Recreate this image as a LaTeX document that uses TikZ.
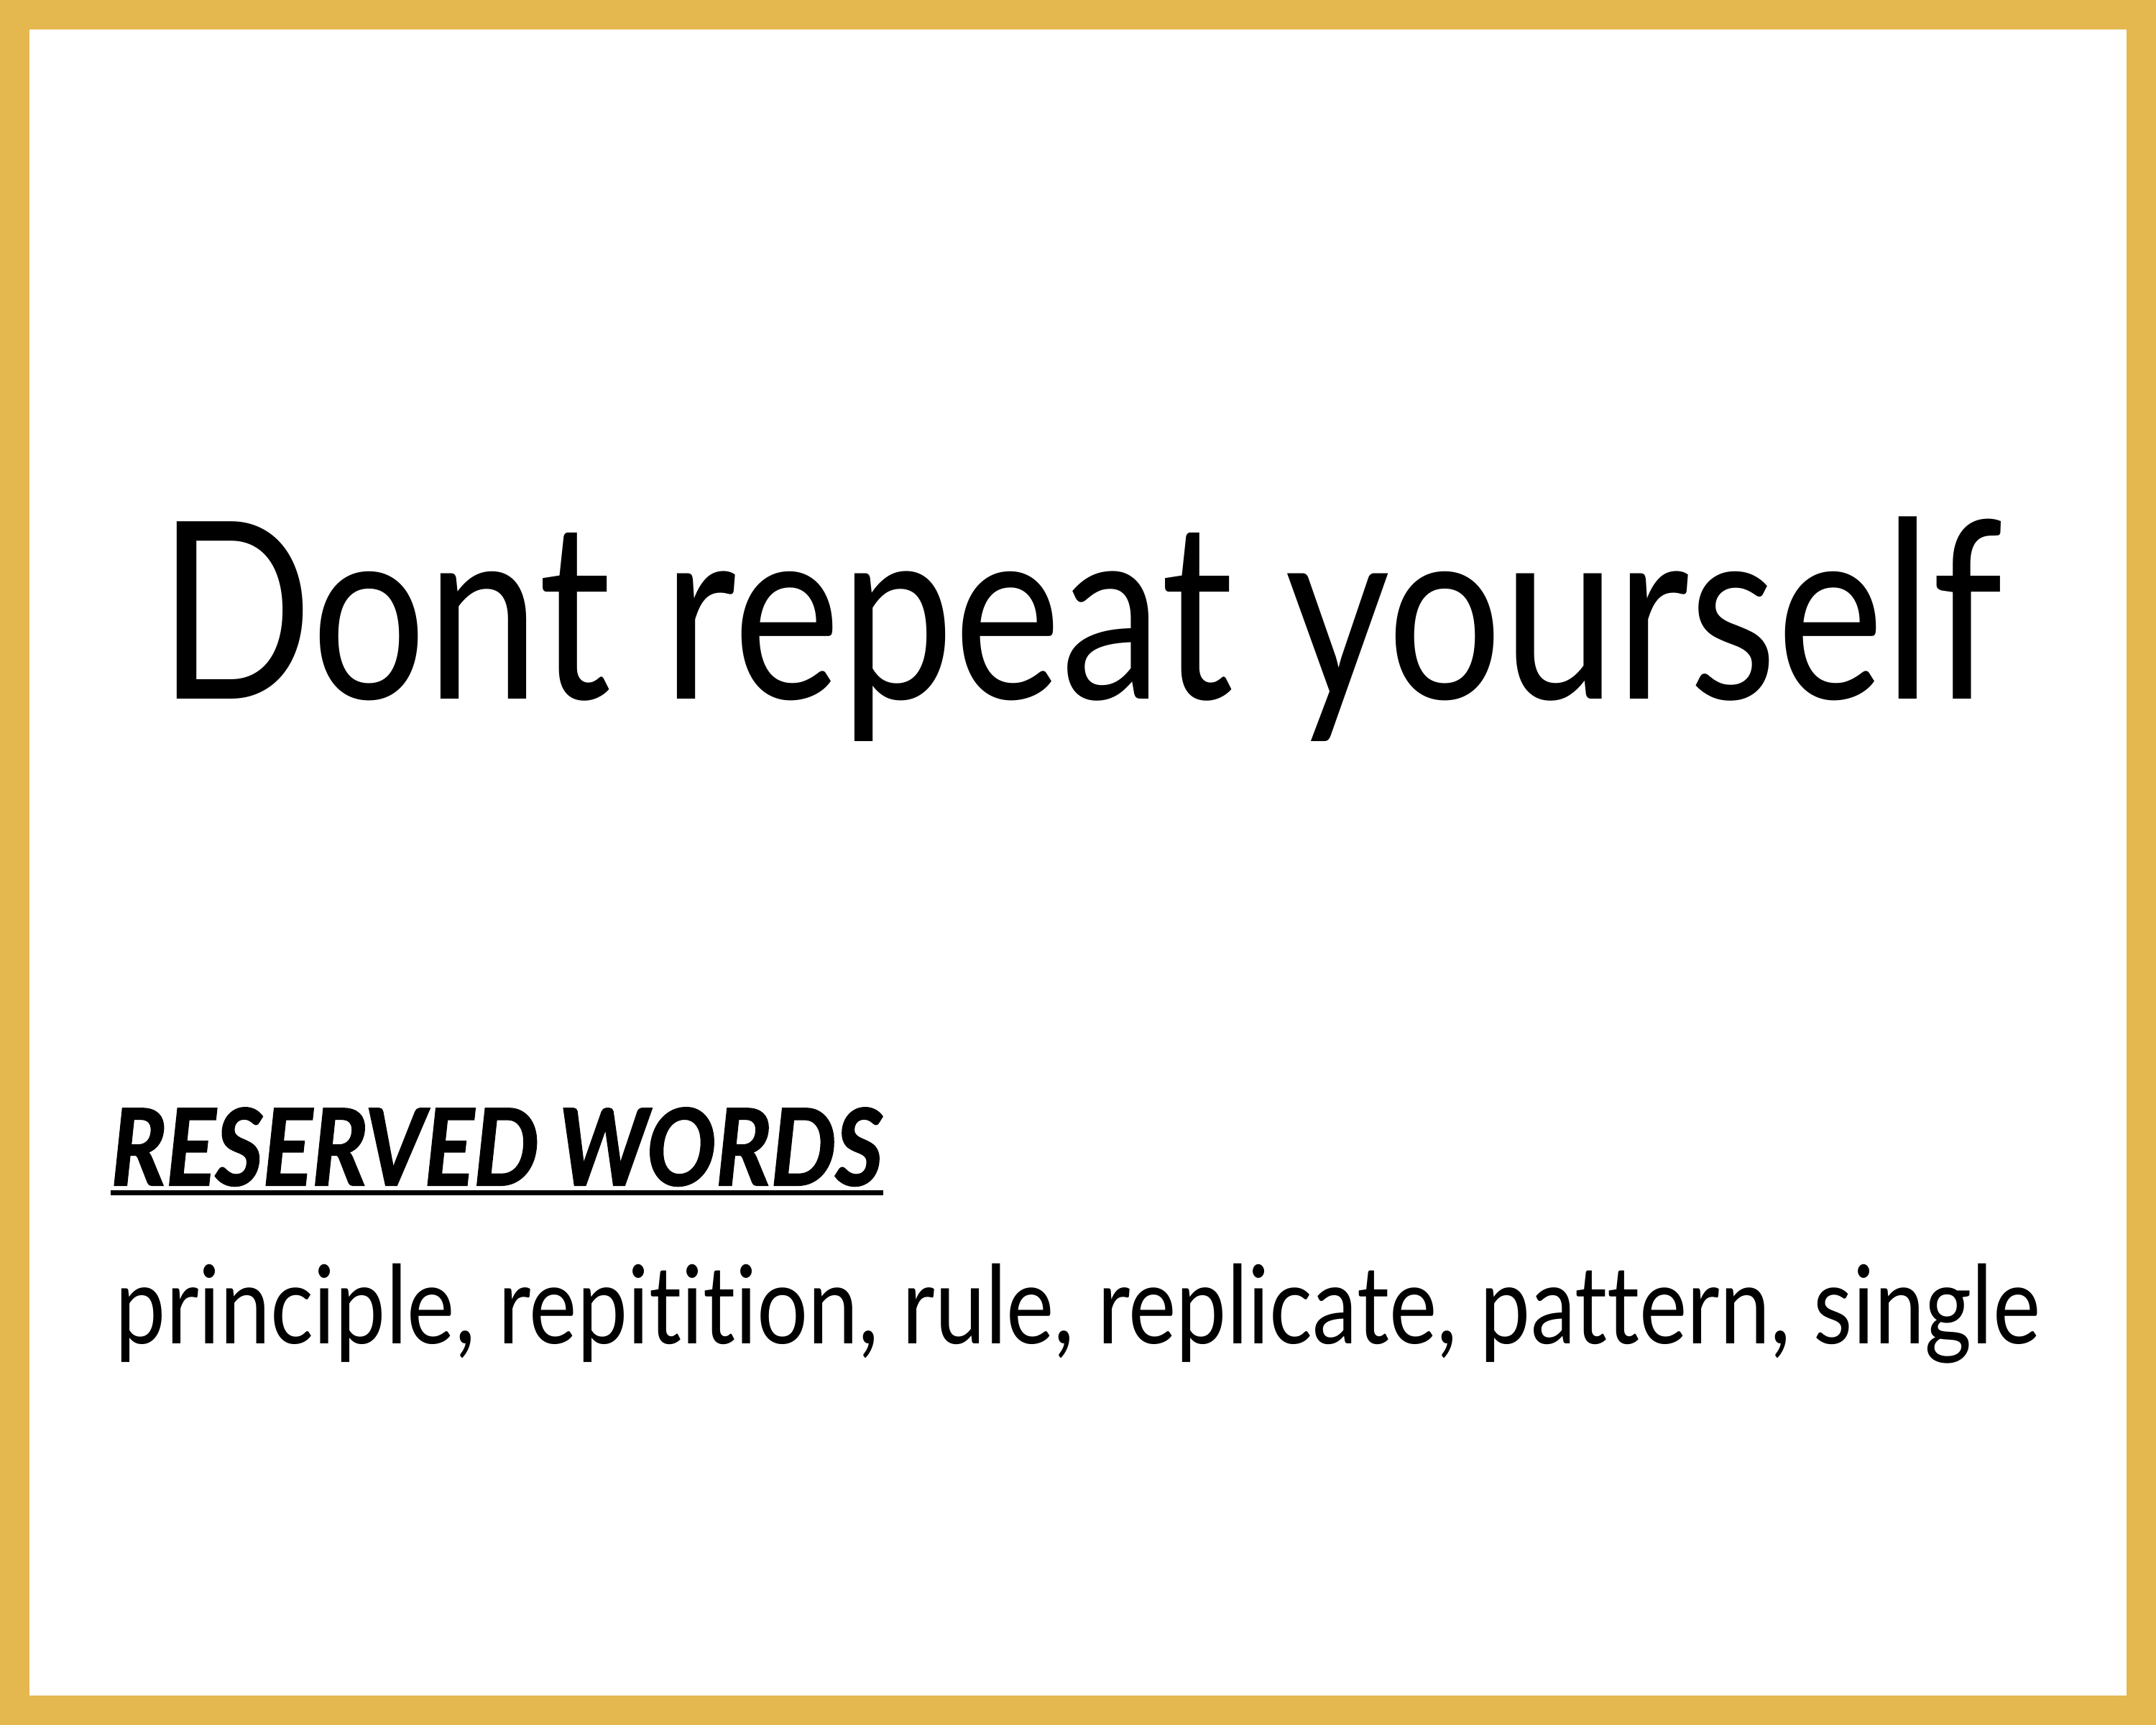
\documentclass[tikz,border=0pt]{standalone}
\usepackage{fontspec}
\setmainfont{Lato}[FakeStretch=0.82, Ligatures=NoCommon]
\newfontfamily\headingfont{Lato}[FakeStretch=0.865, FakeBold=1.5, Ligatures=NoCommon]
\newfontfamily\wordsfont{Lato}[FakeStretch=0.83, Ligatures=NoCommon]
\usetikzlibrary{positioning}
\definecolor{frame_gold}{HTML}{E5B74F}
\tikzstyle{title} = [anchor=base west, inner sep=0pt, font=\fontsize{98}{110}\selectfont]
\tikzstyle{heading} = [anchor=base west, inner sep=0pt, font=\headingfont\fontsize{42}{50}\selectfont\bfseries\itshape]
\tikzstyle{words} = [anchor=base west, inner sep=0pt, font=\wordsfont\fontsize{43}{50}\selectfont]

\begin{document}
\begin{tikzpicture}
    \useasboundingbox (0,0) rectangle (30,24);
    \draw [frame_gold, line width=0.41cm] (0.205,0.205) rectangle (29.795,23.795);
    \node (title) [title] at (2.20,14.27) {Dont repeat yourself};
    \node (reserved) [heading] at (1.54,7.51) {RESERVED WORDS};
    \draw [line width=0.07cm] ([yshift=-0.11cm]reserved.base west) -- ([yshift=-0.11cm]reserved.base east);
    \node (wordlist) [words] at (1.60,5.30) {principle, repitition, rule, replicate, pattern, single};
\end{tikzpicture}
\end{document}
